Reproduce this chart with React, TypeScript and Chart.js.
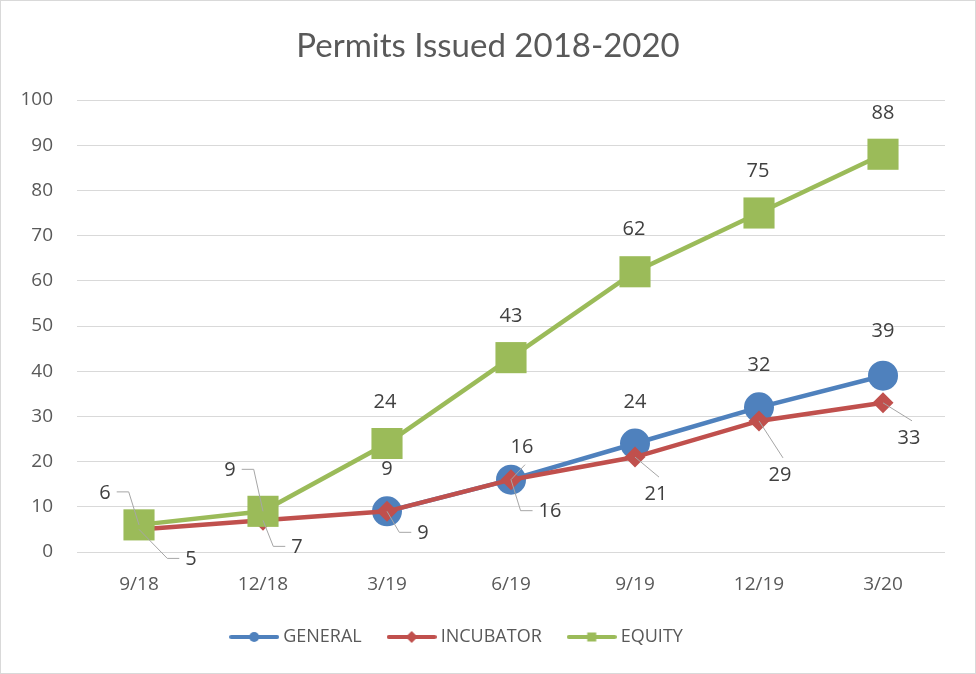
import React, { useEffect, useRef } from "react";
import { Chart, registerables } from "chart.js";

Chart.register(...registerables);

// ---- data ----
const categories = ["9/18", "12/18", "3/19", "6/19", "9/19", "12/19", "3/20"];
const generalValues: (number | null)[] = [null, null, 9, 16, 24, 32, 39];
const incubatorValues: (number | null)[] = [5, 7, 9, 16, 21, 29, 33];
const equityValues: (number | null)[] = [6, 9, 24, 43, 62, 75, 88];
const seriesNames = ["GENERAL", "INCUBATOR", "EQUITY"];
const titleText = "Permits Issued 2018-2020";
const yMin = 0;
const yMax = 100;
const yStep = 10;

// ---- styling ----
const BLUE = "#4F81BD";
const RED = "#C0504D";
const GREEN = "#9BBB59";
const TEXT = "#595959";
const LABEL = "#404040";
const GRID = "#D9D9D9";
const LEADER = "#A6A6A6";
const TICK_FONT = '"Open Sans", sans-serif';

// data-label placement: [dx, dy, leader] ; leader 0 none, 1 elbow, 2 straight
const generalLabelPos = [null, null, [0, -42, 0], [11, -32, 2], [0, -41, 0], [0, -42, 0], [0, -44, 0]];
const incubatorLabelPos = [[52, 30, 1], [34, 27, 1], [36, 22, 1], [39, 32, 1], [21, 37, 2], [21, 54, 2], [26, 35, 2]];
const equityLabelPos = [[-34, -32, 1], [-33, -41, 1], [-2, -41, 0], [0, -41, 0], [-1, -42, 0], [-1, -42, 0], [0, -41, 0]];

export default function App() {
  const ref = useRef<HTMLCanvasElement>(null);

  useEffect(() => {
    const canvas = ref.current!;

    const makeIcon = (color: string, style: string) => {
      const c = document.createElement("canvas");
      c.width = 50;
      c.height = 16;
      const g = c.getContext("2d")!;
      g.strokeStyle = color;
      g.lineWidth = 4;
      g.lineCap = "round";
      g.beginPath();
      g.moveTo(2, 8);
      g.lineTo(48, 8);
      g.stroke();
      g.fillStyle = color;
      g.beginPath();
      if (style === "circle") {
        g.arc(25, 8, 5, 0, Math.PI * 2);
      } else if (style === "diamond") {
        g.moveTo(25, 2);
        g.lineTo(31, 8);
        g.lineTo(25, 14);
        g.lineTo(19, 8);
        g.closePath();
      } else {
        g.rect(20.5, 3.5, 9, 9);
      }
      g.fill();
      return c;
    };

    const icons = [makeIcon(BLUE, "circle"), makeIcon(RED, "diamond"), makeIcon(GREEN, "square")];
    const colors = [BLUE, RED, GREEN];
    const seriesValues = [generalValues, incubatorValues, equityValues];
    const labelPos = [generalLabelPos, incubatorLabelPos, equityLabelPos];

    const bgPlugin = {
      id: "bg",
      beforeDraw(chart: any) {
        const ctx = chart.ctx;
        ctx.save();
        ctx.fillStyle = "#FFFFFF";
        ctx.fillRect(0, 0, chart.width, chart.height);
        ctx.strokeStyle = GRID;
        ctx.lineWidth = 1;
        ctx.strokeRect(0.5, 0.5, chart.width - 1, chart.height - 1);
        ctx.restore();
      },
    };

    const shiftPlugin = {
      id: "shift",
      afterLayout(chart: any) {
        const t = chart.titleBlock;
        if (t) {
          t.left = 0;
          t.right = chart.width;
        }
        const l = chart.legend;
        if (l) {
          l.left -= 14;
          l.right -= 14;
        }
      },
    };

    const labelPlugin = {
      id: "dataLabels",
      afterDatasetsDraw(chart: any) {
        const ctx = chart.ctx;
        ctx.save();
        ctx.font = `20px ${TICK_FONT}`;
        ctx.textAlign = "center";
        ctx.textBaseline = "middle";
        seriesValues.forEach((vals, i) => {
          const meta = chart.getDatasetMeta(i);
          vals.forEach((v, j) => {
            const pos = labelPos[i][j] as number[] | null;
            if (v == null || !pos) return;
            const el = meta.data[j];
            const [dx, dy, mode] = pos;
            const lx = el.x + dx;
            const ly = el.y + dy;
            const txt = String(v);
            const w = ctx.measureText(txt).width;
            ctx.strokeStyle = LEADER;
            ctx.lineWidth = 1;
            if (mode === 1) {
              const dir = dx > 0 ? -1 : 1;
              const sx = lx + dir * (w / 2 + 6);
              const ex = sx + dir * 12;
              const yy = ly - 1;
              ctx.beginPath();
              ctx.moveTo(sx, yy);
              ctx.lineTo(ex, yy);
              ctx.lineTo(el.x, el.y);
              ctx.stroke();
            } else if (mode === 2) {
              const ey = dy > 0 ? ly - 17 : ly + 17;
              ctx.beginPath();
              ctx.moveTo(el.x, el.y);
              ctx.lineTo(lx + 3, ey);
              ctx.stroke();
            }
            ctx.fillStyle = LABEL;
            ctx.fillText(txt, lx, ly);
          });
        });
        ctx.restore();
      },
    };

    const styles = ["circle", "rectRot", "rect"];
    const radii = [15, 10.5, 22];
    const orders = [3, 2, 1];

    const chart = new Chart(canvas, {
      type: "line",
      data: {
        labels: categories,
        datasets: seriesNames.map((name, i) => ({
          label: name,
          data: seriesValues[i],
          borderColor: colors[i],
          backgroundColor: colors[i],
          borderWidth: 4.5,
          pointStyle: styles[i] as any,
          pointRadius: radii[i],
          pointHoverRadius: radii[i],
          pointBorderWidth: 0,
          pointBackgroundColor: colors[i],
          order: orders[i],
          spanGaps: false,
          tension: 0,
        })),
      },
      options: {
        animation: false,
        responsive: false,
        devicePixelRatio: 1,
        layout: { padding: { left: 0, right: 31, top: 0, bottom: 18 } },
        plugins: {
          tooltip: { enabled: false },
          title: {
            display: true,
            text: titleText,
            color: TEXT,
            font: { family: "Lato, sans-serif", size: 33, weight: "normal" as any },
            padding: { top: 27, bottom: 33.4 },
          },
          legend: {
            display: true,
            position: "bottom",
            labels: {
              usePointStyle: true,
              pointStyleWidth: 40,
              padding: 30,
              color: TEXT,
              font: { family: TICK_FONT, size: 18 },
              generateLabels: () =>
                seriesNames.map((name, i) => ({
                  text: name,
                  fillStyle: colors[i],
                  strokeStyle: colors[i],
                  lineWidth: 0,
                  pointStyle: icons[i] as any,
                  hidden: false,
                  datasetIndex: i,
                  fontColor: TEXT,
                })),
            },
          },
        },
        scales: {
          x: {
            type: "category",
            offset: true,
            grid: { display: false, drawTicks: false },
            border: { display: false },
            ticks: { color: TEXT, font: { family: TICK_FONT, size: 19 }, padding: 21, maxRotation: 0 },
            afterFit: (s: any) => {
              s.height = 46;
            },
          },
          y: {
            min: yMin,
            max: yMax,
            grid: { color: GRID, lineWidth: 1, drawTicks: false },
            border: { display: false },
            ticks: { stepSize: yStep, color: TEXT, font: { family: TICK_FONT, size: 19 }, padding: 24 },
            afterFit: (s: any) => {
              s.width = 77;
            },
          },
        },
      },
      plugins: [bgPlugin, shiftPlugin, labelPlugin],
    });

    return () => chart.destroy();
  }, []);

  return (
    <div style={{ position: "absolute", left: 0, top: 0, width: 976, height: 674 }}>
      <canvas ref={ref} width={976} height={674} style={{ width: 976, height: 674 }} />
    </div>
  );
}
